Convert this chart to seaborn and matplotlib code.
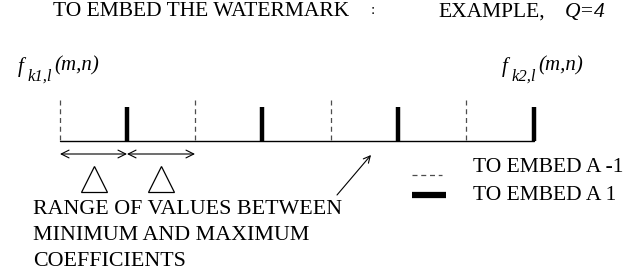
import matplotlib
matplotlib.use("Agg")
import matplotlib.pyplot as plt
import seaborn as sns

sns.set_theme(style="white")
plt.rcParams['font.family'] = ['Liberation Serif', 'DejaVu Serif']

# quantization levels along the coefficient range, Q=4
levels = [-1, 1, -1, 1, -1, 1, -1, 1]
slot_px = [60, 127, 195, 262, 331, 398, 466, 534]
title = "TO EMBED THE WATERMARK"
example = "EXAMPLE,"
legend_labels = ["TO EMBED A -1", "TO EMBED A 1"]
range_text = ["RANGE OF VALUES BETWEEN", "MINIMUM AND MAXIMUM", "COEFFICIENTS"]
coef_labels = [("k1,l", 18), ("k2,l", 502)]

fig = plt.figure(figsize=(6.4, 2.76), dpi=100)
ax = fig.add_axes([0, 0, 1, 1])
ax.set_xlim(0, 640)
ax.set_ylim(276, 0)
ax.axis("off")

base_y = 141
# baseline
sns.lineplot(x=[slot_px[0], slot_px[-1]], y=[base_y, base_y], ax=ax,
             color="black", linewidth=1.0)

for x, lv in zip(slot_px, levels):
    if lv == -1:
        ax.plot([x, x], [100, base_y], color="0.3", linewidth=0.9,
                dashes=(4, 3))
    else:
        ax.plot([x, x], [107, base_y], color="black", linewidth=3.2,
                solid_capstyle="butt")

# double arrows between neighbouring levels
for a, b in [(slot_px[0], slot_px[1]), (slot_px[1], slot_px[2])]:
    ax.annotate("", xy=(a, 154), xytext=(b, 154),
                arrowprops=dict(arrowstyle="<->", color="black", lw=0.8,
                                shrinkA=0, shrinkB=0, mutation_scale=14))

# delta triangles
for cx in [94, 161]:
    ax.plot(cx, 178.5, marker="^", ms=19, mfc="white", mec="black", mew=0.9)

# pointer arrow
ax.annotate("", xy=(371, 155), xytext=(337, 195),
            arrowprops=dict(arrowstyle="->", color="black", lw=0.8,
                            shrinkA=0, shrinkB=0, mutation_scale=12))

# titles
ax.text(53, 12, title, fontsize=15.5, ha="left", va="center", color="black")
ax.text(373, 10, ":", fontsize=11, ha="center", va="center", color="black")
ax.text(438, 12, example, fontsize=15.5, ha="left", va="center",
        color="black")
ax.text(565, 12, "Q=4", fontsize=15.5, ha="left", va="center",
        color="black", style="italic")

for sub, x0 in coef_labels:
    ax.text(x0, 67, "f", fontsize=15, ha="left", va="center",
            color="black", style="italic")
    ax.text(x0 + 10, 77, sub, fontsize=12, ha="left", va="center",
            color="black", style="italic")
    ax.text(x0 + 36, 66, "(m,n)", fontsize=15, ha="left", va="center",
            color="black", style="italic")

# legend
ax.plot([412, 442], [175, 175], color="0.3", linewidth=0.9, dashes=(4, 3))
ax.plot([412, 446], [195, 195], color="black", linewidth=4.5,
        solid_capstyle="butt")
ax.text(473, 168, legend_labels[0], fontsize=15.5, ha="left", va="center",
        color="black")
ax.text(473, 196, legend_labels[1], fontsize=15.5, ha="left", va="center",
        color="black")

for i, line in enumerate(range_text):
    ax.text(33, 210 + i * 26, line, fontsize=15.8, ha="left", va="center",
            color="black")

fig.savefig("out.png", dpi=100, facecolor="white")
